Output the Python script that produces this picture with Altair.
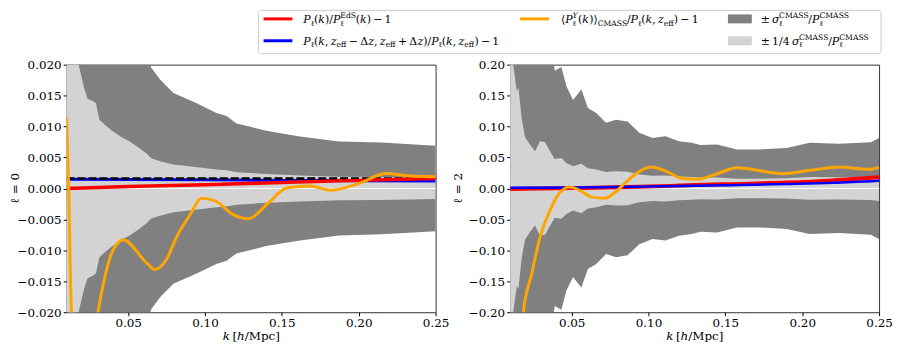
import altair as alt
import pandas as pd

# ---------------- data ----------------
X_DOMAIN = [0.01, 0.25]
X_TICKS = [0.05, 0.10, 0.15, 0.20, 0.25]

# ell = 0 panel
Y_DOMAIN0 = [-0.02, 0.02]
Y_TICKS0 = [-0.02, -0.015, -0.01, -0.005, 0.0, 0.005, 0.01, 0.015, 0.02]
K_SIG0 = [0.010, 0.0125, 0.015, 0.0178, 0.0213, 0.0236, 0.027, 0.029, 0.0313, 0.035,
          0.040, 0.045, 0.051, 0.056, 0.062, 0.065, 0.0708, 0.0794, 0.0924, 0.0966,
          0.1074, 0.114, 0.1204, 0.129, 0.1398, 0.1617, 0.1872, 0.215, 0.25]
SIG0 = [0.14, 0.11, 0.095, 0.080, 0.065, 0.058, 0.0565, 0.055, 0.0444, 0.041,
        0.037, 0.0335, 0.0304, 0.027, 0.0225, 0.0195, 0.0176, 0.0154, 0.0140, 0.0135,
        0.0122, 0.0117, 0.0105, 0.0100, 0.0093, 0.0084, 0.0076, 0.0074, 0.0069]
K_RED0 = [0.01, 0.05, 0.10, 0.15, 0.20, 0.25]
RED0 = [0.0, 0.0003, 0.0006, 0.00095, 0.0013, 0.0016]
K_BLUE0 = [0.01, 0.05, 0.10, 0.15, 0.20, 0.25]
BLUE0 = [0.00148, 0.00146, 0.0014, 0.0013, 0.00125, 0.0012]
K_DASH0 = [0.01, 0.25]
DASH0 = [0.0016, 0.0016]
K_OR0 = [0.010, 0.0113, 0.0125, 0.0135, 0.020, 0.0304, 0.0347, 0.039, 0.0433, 0.0465,
         0.0627, 0.0675, 0.0746, 0.082, 0.0907, 0.0975, 0.1066, 0.118, 0.1283, 0.141,
         0.1535, 0.168, 0.182, 0.199, 0.218, 0.233, 0.25]
OR0 = [0.0115, 0.0, -0.015, -0.022, -0.045, -0.020, -0.0145, -0.0106, -0.0088, -0.0083,
       -0.0122, -0.0131, -0.0116, -0.0076, -0.0041, -0.0016, -0.0020, -0.0042, -0.0049, -0.0024,
       0.0001, 0.0004, -0.0003, 0.0007, 0.0024, 0.0020, 0.0019]

# ell = 2 panel
Y_DOMAIN2 = [-0.2, 0.2]
Y_TICKS2 = [-0.2, -0.15, -0.1, -0.05, 0.0, 0.05, 0.1, 0.15, 0.2]
K_SIG2 = [0.010, 0.012, 0.0143, 0.0154, 0.0175, 0.0197, 0.023, 0.0262, 0.0294, 0.0326,
          0.036, 0.039, 0.0433, 0.0466, 0.0509, 0.0563, 0.0606, 0.066, 0.0724, 0.0789,
          0.0864, 0.094, 0.1026, 0.111, 0.1198, 0.128, 0.1338, 0.1446, 0.1575, 0.1725,
          0.1898, 0.2048, 0.2242, 0.2447, 0.25]
SIG2 = [1.0, 0.80, 0.63, 0.65, 0.45, 0.33, 0.28, 0.24, 0.305, 0.30,
        0.24, 0.19, 0.196, 0.165, 0.143, 0.160, 0.130, 0.122, 0.106, 0.111,
        0.108, 0.090, 0.0816, 0.0843, 0.0763, 0.0736, 0.070, 0.071, 0.063, 0.063,
        0.0655, 0.0736, 0.072, 0.0747, 0.0816]
K_RED2 = [0.01, 0.05, 0.10, 0.125, 0.15, 0.19, 0.22, 0.25]
RED2 = [-0.001, 0.0005, 0.003, 0.005, 0.0068, 0.0095, 0.013, 0.018]
K_BLUE2 = [0.01, 0.05, 0.10, 0.15, 0.19, 0.22, 0.25]
BLUE2 = [0.0012, 0.0015, 0.003, 0.005, 0.007, 0.009, 0.0125]
K_OR2 = [0.010, 0.015, 0.0186, 0.024, 0.0294, 0.0358, 0.0423, 0.0488, 0.0552, 0.0627,
         0.0714, 0.0789, 0.0853, 0.092, 0.1015, 0.1112, 0.1215, 0.132, 0.1446, 0.1575,
         0.1877, 0.2048, 0.2242, 0.2436, 0.25]
OR2 = [-0.60, -0.35, -0.20, -0.138, -0.079, -0.036, -0.0067, 0.0024, -0.003, -0.0137,
       -0.0158, -0.005, 0.010, 0.024, 0.0345, 0.028, 0.0164, 0.0148, 0.0238, 0.0334,
       0.0238, 0.0292, 0.0345, 0.0308, 0.0340]

# ---------------- styling ----------------
W, H = 371, 249
SERIF = "DejaVu Serif"
FS_AX = 12.0
FS_LEG = 11.0
SP = 0.2  # word space (em) used in the rich-text legend
RED, BLUE, ORANGE = "#ff0000", "#0000ff", "#ffa500"
DARK, LIGHT = "#808080", "#d3d3d3"

# approximate advance widths (em) for DejaVu Serif
W_REG = {'(': 0.39, ')': 0.39, '[': 0.39, ']': 0.39, '/': 0.337,
         '−': 0.838, '+': 0.838, '±': 0.838, '=': 0.838, ',': 0.318, '.': 0.318,
         'A': 0.722, 'C': 0.734, 'E': 0.683, 'M': 0.995, 'S': 0.685, 'Y': 0.724,
         'P': 0.676, 'd': 0.64, 's': 0.513, 'e': 0.592, 'f': 0.37, 'p': 0.64,
         'c': 0.56, 'Δ': 0.752, '⟨': 0.39, '⟩': 0.39, 'ℓ': 0.42, 'σ': 0.64,
         'k': 0.62, 'h': 0.644, 'z': 0.525, '1': 0.636, '4': 0.636}
W_IT = {'P': 0.676, 'k': 0.62, 'z': 0.525, 'h': 0.644, 'Y': 0.724, 'σ': 0.64, 'ℓ': 0.42}


def tw(s, italic):
    tot = 0.0
    for c in s:
        if italic and c in W_IT:
            tot += W_IT[c]
        else:
            tot += W_REG.get(c, 0.6)
    return tot


def rich(parts, x0, yb, fs):
    segs = []
    x = x0
    sc = 0.7 * fs

    def put(t, xx, yy, size, it):
        cx = xx
        for i, word in enumerate(t.split(' ')):
            if i > 0:
                cx += SP * size
            if word:
                segs.append((word, cx, yy, size, it))
                cx += tw(word, it) * size
        return cx - xx

    for p in parts:
        kind = p[0]
        if kind == "n":
            x += put(p[1], x, yb, fs, False)
        elif kind == "i":
            x += put(p[1], x, yb, fs, True)
        elif kind == "sub":
            x += put(p[1], x, yb + 0.25 * fs, sc, False)
        elif kind == "ss":
            w1 = put(p[1], x, yb + 0.25 * fs, sc, False)
            w2 = put(p[2], x, yb - 0.42 * fs, sc, p[3] if len(p) > 3 else False)
            x += max(w1, w2)
    return segs, x - x0


def text_layers(segs):
    out = []
    for (t, x, y, fs, it) in segs:
        out.append(
            alt.Chart(pd.DataFrame({"t": [t]})).mark_text(
                align="left", baseline="alphabetic", font=SERIF, fontSize=fs,
                fontStyle="italic" if it else "normal", color="black"
            ).encode(x=alt.value(x), y=alt.value(y), text="t:N")
        )
    return out


def line_layer(ks, vs, color, width, xs, ys, xax, yax, dash=None):
    df = pd.DataFrame({"k": ks, "v": vs})
    kw = dict(color=color, strokeWidth=width, clip=True, interpolate="monotone")
    if dash:
        kw["strokeDash"] = dash
    return alt.Chart(df).mark_line(**kw).encode(
        x=alt.X("k:Q", scale=xs, axis=xax),
        y=alt.Y("v:Q", scale=ys, axis=yax),
        order=alt.Order("k:Q"),
    )


def panel(ksig, sig, ydom, yticks, yfmt, ytitle, lines, extra):
    xs = alt.Scale(domain=X_DOMAIN, nice=False, zero=False)
    ys = alt.Scale(domain=ydom, nice=False, zero=False)
    xax = alt.Axis(values=X_TICKS, format=".2f", title=None)
    yax = alt.Axis(values=yticks, format=yfmt, title=None)
    band = pd.DataFrame({"k": ksig, "sig": sig})
    dark = alt.Chart(band).transform_calculate(
        lo="-datum.sig", hi="datum.sig"
    ).mark_area(color=DARK, clip=True, opacity=1).encode(
        x=alt.X("k:Q", scale=xs, axis=xax),
        y=alt.Y("lo:Q", scale=ys, axis=yax), y2="hi:Q")
    light = alt.Chart(band).transform_calculate(
        lo="-datum.sig/4", hi="datum.sig/4"
    ).mark_area(color=LIGHT, clip=True, opacity=1).encode(
        x=alt.X("k:Q", scale=xs, axis=xax),
        y=alt.Y("lo:Q", scale=ys, axis=yax), y2="hi:Q")
    zero = alt.Chart(pd.DataFrame({"v": [0.0]})).mark_rule(
        color="white", strokeWidth=1).encode(y=alt.Y("v:Q", scale=ys, axis=yax))
    layers = [dark, light, zero]
    for (ks, vs, c, w, d) in lines:
        layers.append(line_layer(ks, vs, c, w, xs, ys, xax, yax, d))
    # x-axis title as rich text
    xt_parts = [("i", "k"), ("n", " ["), ("i", "h"), ("n", "/Mpc]")]
    _, wt = rich(xt_parts, 0, 0, FS_AX)
    segs, _ = rich(xt_parts, W / 2 - wt / 2, H + 28, FS_AX)
    layers += text_layers(segs)
    # y-axis title
    layers.append(
        alt.Chart(pd.DataFrame({"t": [ytitle]})).mark_text(
            align="center", baseline="middle", angle=270, font=SERIF,
            fontSize=FS_AX, color="black"
        ).encode(x=alt.value(-52), y=alt.value(H / 2), text="t:N")
    )
    layers += extra
    return alt.layer(*layers).properties(width=W, height=H)


# ---------------- legend (drawn in the left panel, above the plot) ----------------
def legend_layers():
    out = []
    box = alt.Chart(pd.DataFrame({"a": [0]})).mark_rect(
        fill="white", stroke="#cccccc", strokeWidth=1, cornerRadius=3
    ).encode(x=alt.value(193), x2=alt.value(819), y=alt.value(-54.5), y2=alt.value(-11))
    out.append(box)
    r1, r2 = -46, -24

    def handle(x1, x2, y, color, w):
        return alt.Chart(pd.DataFrame({"a": [0]})).mark_rule(
            color=color, strokeWidth=w).encode(
            x=alt.value(x1), x2=alt.value(x2), y=alt.value(y))

    def patch(x1, x2, y, color):
        return alt.Chart(pd.DataFrame({"a": [0]})).mark_rect(color=color).encode(
            x=alt.value(x1), x2=alt.value(x2), y=alt.value(y - 4.5), y2=alt.value(y + 4.5))

    out.append(handle(198, 227, r1, RED, 3))
    out.append(handle(198, 227, r2, BLUE, 3))
    out.append(handle(456, 485, r1, ORANGE, 3))
    out.append(patch(665, 689, r1, DARK))
    out.append(patch(665, 689, r2, LIGHT))

    lab1 = [("i", "P"), ("sub", "ℓ"), ("n", "("), ("i", "k"), ("n", ")/"), ("i", "P"),
            ("ss", "ℓ", "EdS"), ("n", "("), ("i", "k"), ("n", ") − 1")]
    lab2 = [("i", "P"), ("sub", "ℓ"), ("n", "("), ("i", "k"), ("n", ", "), ("i", "z"),
            ("sub", "eff"), ("n", " − Δ"), ("i", "z"), ("n", ", "), ("i", "z"), ("sub", "eff"),
            ("n", " + Δ"), ("i", "z"), ("n", ")/"), ("i", "P"), ("sub", "ℓ"), ("n", "("),
            ("i", "k"), ("n", ", "), ("i", "z"), ("sub", "eff"), ("n", ") − 1")]
    lab3 = [("n", "⟨"), ("i", "P"), ("ss", "ℓ", "Y", True), ("n", "("), ("i", "k"),
            ("n", ")⟩"), ("sub", "CMASS"), ("n", "/"), ("i", "P"), ("sub", "ℓ"),
            ("n", "("), ("i", "k"), ("n", ", "), ("i", "z"), ("sub", "eff"), ("n", ") − 1")]
    lab4 = [("n", "± "), ("i", "σ"), ("ss", "ℓ", "CMASS"), ("n", "/"), ("i", "P"),
            ("ss", "ℓ", "CMASS")]
    lab5 = [("n", "± 1/4 "), ("i", "σ"), ("ss", "ℓ", "CMASS"), ("n", "/"), ("i", "P"),
            ("ss", "ℓ", "CMASS")]
    dyb = 0.36 * FS_LEG
    for parts, x0, y in [(lab1, 238, r1), (lab2, 238, r2), (lab3, 497, r1),
                         (lab4, 698, r1), (lab5, 698, r2)]:
        segs, _ = rich(parts, x0, y + dyb, FS_LEG)
        out += text_layers(segs)
    return out


left = panel(
    K_SIG0, SIG0, Y_DOMAIN0, Y_TICKS0, ".3f", "ℓ = 0",
    [(K_BLUE0, BLUE0, BLUE, 3, None),
     (K_DASH0, DASH0, "black", 2.5, [8, 3]),
     (K_RED0, RED0, RED, 3.5, None),
     (K_OR0, OR0, ORANGE, 3, None)],
    legend_layers(),
)
right = panel(
    K_SIG2, SIG2, Y_DOMAIN2, Y_TICKS2, ".2f", "ℓ = 2",
    [(K_RED2, RED2, RED, 4, None),
     (K_BLUE2, BLUE2, BLUE, 2.5, None),
     (K_OR2, OR2, ORANGE, 3, None)],
    [],
)

chart = alt.hconcat(left, right, spacing=75, bounds="flush").properties(
    padding=0
).configure_view(
    stroke="#333333", strokeWidth=1
).configure_axis(
    grid=False, domain=False, ticks=True, tickSize=3.5, tickWidth=1, tickColor="black",
    labelFont=SERIF, labelFontSize=FS_AX, labelColor="black", labelPadding=2,
    labelFlush=False, labelOverlap=False,
)

chart.save("out.html", embed_options={"renderer": "svg", "actions": False})
